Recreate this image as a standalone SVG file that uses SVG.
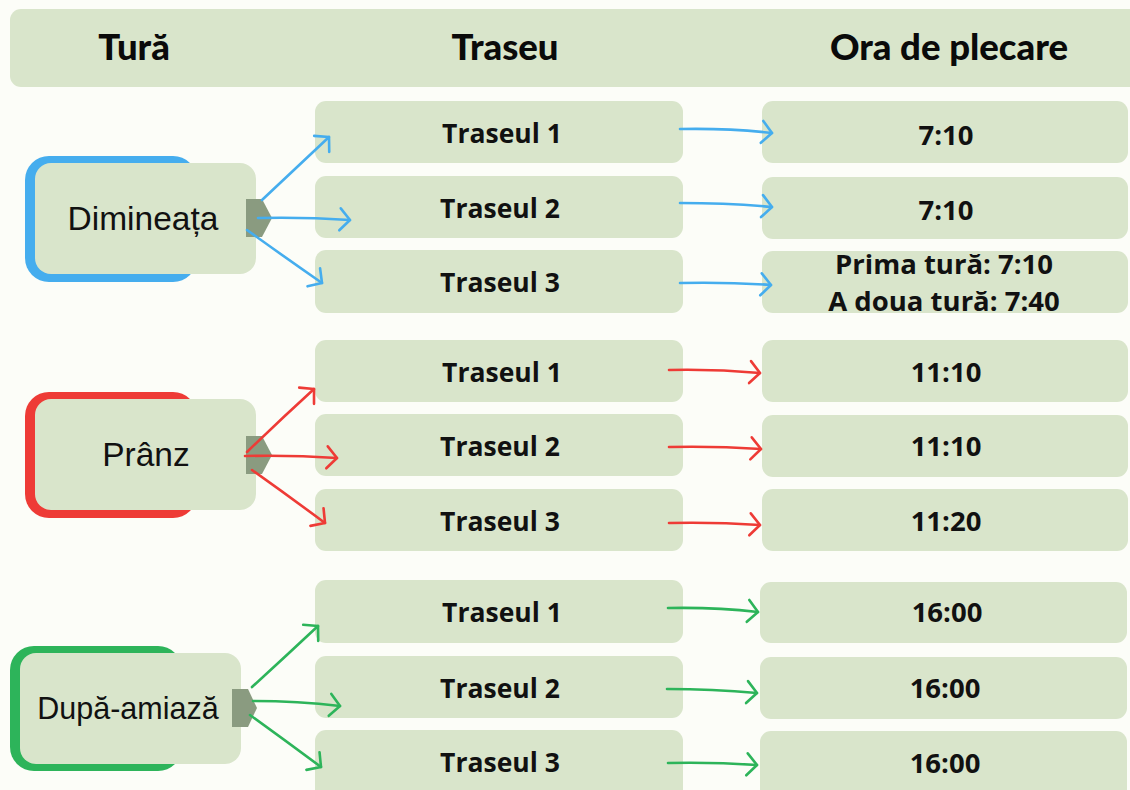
<svg xmlns="http://www.w3.org/2000/svg" width="1130" height="790" viewBox="0 0 1130 790">
<defs>
<style>
.bg{fill:#FCFDF8}
.box{fill:#D9E5CB}
.hdr{font-family:"Lato","Liberation Sans",sans-serif;font-weight:900;font-size:36.5px;fill:#0a0a0a;text-anchor:middle}
.tr{font-family:"Open Sans","Liberation Sans",sans-serif;font-weight:700;font-size:26.5px;fill:#111;text-anchor:middle}
.ora{font-family:"Open Sans","Liberation Sans",sans-serif;font-weight:700;font-size:27.5px;fill:#111;text-anchor:middle}
.lbl{font-family:"Liberation Sans","Arial",sans-serif;font-size:33.5px;fill:#111;text-anchor:middle}
.tab{fill:#8A9B80}
.ab{stroke:#45ADEE;stroke-width:2.6;fill:none;stroke-linecap:round}
.ar{stroke:#EE3B36;stroke-width:2.6;fill:none;stroke-linecap:round}
.ag{stroke:#2DB45A;stroke-width:2.6;fill:none;stroke-linecap:round}
</style>
<marker id="mb" markerUnits="userSpaceOnUse" viewBox="-12 -13 14 26" refX="0" refY="0" markerWidth="14" markerHeight="26" orient="auto"><path d="M-10,-11 L0,0 L-10,11" fill="none" stroke="#45ADEE" stroke-width="2.6" stroke-linecap="round" stroke-linejoin="round"/></marker>
<marker id="mr" markerUnits="userSpaceOnUse" viewBox="-12 -13 14 26" refX="0" refY="0" markerWidth="14" markerHeight="26" orient="auto"><path d="M-10,-11 L0,0 L-10,11" fill="none" stroke="#EE3B36" stroke-width="2.6" stroke-linecap="round" stroke-linejoin="round"/></marker>
<marker id="mg" markerUnits="userSpaceOnUse" viewBox="-12 -13 14 26" refX="0" refY="0" markerWidth="14" markerHeight="26" orient="auto"><path d="M-10,-11 L0,0 L-10,11" fill="none" stroke="#2DB45A" stroke-width="2.6" stroke-linecap="round" stroke-linejoin="round"/></marker>
</defs>
<rect class="bg" x="0" y="0" width="1130" height="790"/>

<g id="header">
<rect class="box" x="10" y="9" width="1135" height="78" rx="11"/>
<text class="hdr" x="134" y="60">Tură</text>
<text class="hdr" x="505" y="60">Traseu</text>
<text class="hdr" x="949" y="60">Ora de plecare</text>
</g>

<g id="node-dimineata">
<rect x="25" y="156" width="172" height="126" rx="24" fill="#45ADEE"/>
<rect class="box" x="35" y="163" width="221" height="111" rx="16"/>
<path class="tab" d="M246,199 H262 L272,218 L262,237 H246 Z"/>
<text class="lbl" x="143" y="230">Dimineața</text>
</g>
<g id="node-pranz">
<rect x="25" y="392" width="172" height="126" rx="24" fill="#EE3B36"/>
<rect class="box" x="35" y="399" width="221" height="111" rx="16"/>
<path class="tab" d="M246,436 H262 L272,455 L262,474 H246 Z"/>
<text class="lbl" x="146" y="466">Prânz</text>
</g>
<g id="node-dupa-amiaza">
<rect x="10" y="646" width="172" height="125" rx="24" fill="#2DB45A"/>
<rect class="box" x="20" y="653" width="221" height="111" rx="16"/>
<path class="tab" d="M232,689 H248 L257,708 L248,727 H232 Z"/>
<text class="lbl" x="128" y="719" style="font-size:30.5px">După-amiază</text>
</g>

<g id="traseu-dim-1"><rect class="box" x="315" y="101" width="368" height="62" rx="11"/><text class="tr" x="502" y="143">Traseul 1</text></g>
<g id="traseu-dim-2"><rect class="box" x="315" y="176" width="368" height="62" rx="11"/><text class="tr" x="500" y="218">Traseul 2</text></g>
<g id="traseu-dim-3"><rect class="box" x="315" y="250" width="368" height="63" rx="11"/><text class="tr" x="500" y="292">Traseul 3</text></g>
<g id="traseu-pr-1"><rect class="box" x="315" y="340" width="368" height="62" rx="11"/><text class="tr" x="502" y="382">Traseul 1</text></g>
<g id="traseu-pr-2"><rect class="box" x="315" y="414" width="368" height="62" rx="11"/><text class="tr" x="500" y="456">Traseul 2</text></g>
<g id="traseu-pr-3"><rect class="box" x="315" y="489" width="368" height="62" rx="11"/><text class="tr" x="500" y="531">Traseul 3</text></g>
<g id="traseu-da-1"><rect class="box" x="315" y="580" width="368" height="63" rx="11"/><text class="tr" x="502" y="622">Traseul 1</text></g>
<g id="traseu-da-2"><rect class="box" x="315" y="656" width="368" height="62" rx="11"/><text class="tr" x="500" y="698">Traseul 2</text></g>
<g id="traseu-da-3"><rect class="box" x="315" y="730" width="368" height="70" rx="11"/><text class="tr" x="500" y="772">Traseul 3</text></g>

<g id="ora-dim-1"><rect class="box" x="762" y="101" width="366" height="62" rx="11"/><text class="ora" x="946" y="145">7:10</text></g>
<g id="ora-dim-2"><rect class="box" x="762" y="177" width="366" height="62" rx="11"/><text class="ora" x="946" y="220">7:10</text></g>
<g id="ora-dim-3"><rect class="box" x="762" y="251" width="366" height="62" rx="11"/><text class="ora" x="944" y="274">Prima tură: 7:10</text><text class="ora" x="944" y="311">A doua tură: 7:40</text></g>
<g id="ora-pr-1"><rect class="box" x="762" y="340" width="366" height="62" rx="11"/><text class="ora" x="946" y="382">11:10</text></g>
<g id="ora-pr-2"><rect class="box" x="762" y="415" width="366" height="62" rx="11"/><text class="ora" x="946" y="456">11:10</text></g>
<g id="ora-pr-3"><rect class="box" x="762" y="489" width="366" height="62" rx="11"/><text class="ora" x="946" y="531">11:20</text></g>
<g id="ora-da-1"><rect class="box" x="760" y="582" width="367" height="61" rx="11"/><text class="ora" x="947" y="622">16:00</text></g>
<g id="ora-da-2"><rect class="box" x="760" y="657" width="367" height="62" rx="11"/><text class="ora" x="945" y="698">16:00</text></g>
<g id="ora-da-3"><rect class="box" x="760" y="731" width="367" height="70" rx="11"/><text class="ora" x="945" y="773">16:00</text></g>

<g id="connectors">
<path class="ab" marker-end="url(#mb)" d="M262,200 Q296,168 329,137"/>
<path class="ab" marker-end="url(#mb)" d="M258,218 Q305,217 350,220"/>
<path class="ab" marker-end="url(#mb)" d="M247,230 Q286,258 322,283"/>
<path class="ab" marker-end="url(#mb)" d="M680,129 Q728,128 772,133"/>
<path class="ab" marker-end="url(#mb)" d="M680,203 Q728,203 772,207"/>
<path class="ab" marker-end="url(#mb)" d="M680,283 Q728,282 771,285"/>

<path class="ar" marker-end="url(#mr)" d="M247,452 Q280,420 314,389"/>
<path class="ar" marker-end="url(#mr)" d="M245,456 Q292,455 337,458"/>
<path class="ar" marker-end="url(#mr)" d="M252,470 Q290,497 325,523"/>
<path class="ar" marker-end="url(#mr)" d="M669,370 Q715,369 760,373"/>
<path class="ar" marker-end="url(#mr)" d="M669,447 Q715,446 761,449"/>
<path class="ar" marker-end="url(#mr)" d="M669,523 Q715,522 760,525"/>

<path class="ag" marker-end="url(#mg)" d="M252,687 Q286,656 318,626"/>
<path class="ag" marker-end="url(#mg)" d="M253,701 Q297,701 340,706"/>
<path class="ag" marker-end="url(#mg)" d="M250,715 Q286,741 321,767"/>
<path class="ag" marker-end="url(#mg)" d="M668,608 Q714,607 758,612"/>
<path class="ag" marker-end="url(#mg)" d="M667,689 Q712,689 757,693"/>
<path class="ag" marker-end="url(#mg)" d="M668,763 Q712,762 757,765"/>
</g>
</svg>
